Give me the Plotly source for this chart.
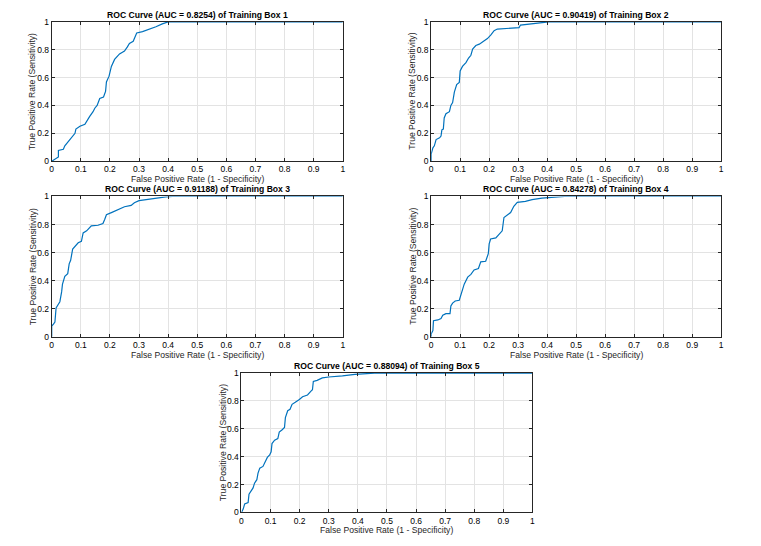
import plotly.graph_objects as go

# ---- data ----
titles = [
    "ROC Curve (AUC = 0.8254) of Training Box 1",
    "ROC Curve (AUC = 0.90419) of Training Box 2",
    "ROC Curve (AUC = 0.91188) of Training Box 3",
    "ROC Curve (AUC = 0.84278) of Training Box 4",
    "ROC Curve (AUC = 0.88094) of Training Box 5",
]

fpr1 = [0, 0.017, 0.023, 0.023, 0.04, 0.045, 0.057, 0.068, 0.08, 0.083, 0.097, 0.114, 0.12, 0.13, 0.142, 0.148,
        0.156, 0.165, 0.178, 0.185, 0.188, 0.197, 0.205, 0.216, 0.233, 0.25, 0.26, 0.267, 0.28, 0.292, 0.312,
        0.335, 0.358, 0.38, 0.40, 1.0]
tpr1 = [0, 0.026, 0.03, 0.077, 0.085, 0.11, 0.14, 0.17, 0.20, 0.23, 0.25, 0.265, 0.29, 0.32, 0.355, 0.38,
        0.40, 0.45, 0.46, 0.50, 0.568, 0.61, 0.68, 0.73, 0.77, 0.79, 0.82, 0.845, 0.86, 0.92, 0.93,
        0.945, 0.965, 0.985, 1.0, 1.0]

fpr2 = [0, 0, 0.006, 0.011, 0.017, 0.029, 0.034, 0.037, 0.042, 0.045, 0.051, 0.063, 0.068, 0.074, 0.08, 0.088,
        0.097, 0.10, 0.108, 0.12, 0.129, 0.137, 0.143, 0.154, 0.166, 0.183, 0.194, 0.206, 0.217, 0.228, 0.257,
        0.303, 0.308, 0.36, 0.405, 1.0]
tpr2 = [0, 0.05, 0.096, 0.11, 0.155, 0.167, 0.18, 0.225, 0.23, 0.31, 0.34, 0.355, 0.40, 0.42, 0.495, 0.55,
        0.565, 0.648, 0.68, 0.707, 0.74, 0.76, 0.805, 0.83, 0.84, 0.866, 0.88, 0.906, 0.937, 0.948, 0.953,
        0.958, 0.977, 0.988, 1.0, 1.0]

fpr3 = [0, 0, 0.006, 0.011, 0.015, 0.023, 0.028, 0.034, 0.037, 0.045, 0.055, 0.06, 0.065, 0.072, 0.08, 0.091,
        0.102, 0.108, 0.12, 0.136, 0.159, 0.176, 0.182, 0.188, 0.205, 0.222, 0.233, 0.25, 0.273, 0.284, 0.30,
        0.324, 0.358, 0.392, 0.415, 1.0]
tpr3 = [0, 0.077, 0.09, 0.105, 0.205, 0.24, 0.25, 0.32, 0.375, 0.43, 0.45, 0.52, 0.545, 0.625, 0.645, 0.67,
        0.68, 0.74, 0.755, 0.79, 0.795, 0.807, 0.836, 0.87, 0.885, 0.90, 0.915, 0.927, 0.936, 0.955, 0.97,
        0.977, 0.99, 0.997, 1.0, 1.0]

fpr4 = [0, 0, 0.006, 0.008, 0.023, 0.034, 0.04, 0.051, 0.065, 0.068, 0.074, 0.083, 0.097, 0.103, 0.108, 0.114,
        0.126, 0.137, 0.148, 0.163, 0.171, 0.188, 0.197, 0.20, 0.205, 0.223, 0.234, 0.245, 0.251, 0.263, 0.274,
        0.285, 0.297, 0.325, 0.348, 0.382, 0.417, 0.46, 1.0]
tpr4 = [0, 0.02, 0.044, 0.114, 0.12, 0.13, 0.154, 0.165, 0.165, 0.22, 0.24, 0.255, 0.26, 0.30, 0.34, 0.375,
        0.425, 0.445, 0.476, 0.487, 0.534, 0.538, 0.592, 0.662, 0.697, 0.705, 0.73, 0.755, 0.85, 0.87, 0.885,
        0.93, 0.958, 0.965, 0.977, 0.988, 0.995, 1.0, 1.0]

fpr5 = [0, 0.006, 0.011, 0.023, 0.026, 0.034, 0.04, 0.045, 0.053, 0.057, 0.063, 0.074, 0.083, 0.089, 0.097, 0.102,
        0.105, 0.114, 0.125, 0.13, 0.14, 0.148, 0.151, 0.159, 0.167, 0.174, 0.185, 0.193, 0.199, 0.21, 0.227,
        0.239, 0.244, 0.247, 0.26, 0.278, 0.30, 0.347, 0.39, 0.457, 1.0]
tpr5 = [0, 0.024, 0.06, 0.07, 0.13, 0.153, 0.176, 0.21, 0.235, 0.282, 0.318, 0.33, 0.365, 0.395, 0.412, 0.435,
        0.494, 0.518, 0.53, 0.576, 0.593, 0.61, 0.68, 0.73, 0.74, 0.776, 0.79, 0.80, 0.81, 0.83, 0.843,
        0.87, 0.88, 0.94, 0.948, 0.965, 0.972, 0.98, 0.99, 1.0, 1.0]

tick_vals = [0, 0.1, 0.2, 0.3, 0.4, 0.5, 0.6, 0.7, 0.8, 0.9, 1]
x_tick_text = ["0", "0.1", "0.2", "0.3", "0.4", "0.5", "0.6", "0.7", "0.8", "0.9", "1"]
y_tick_vals = [0, 0.2, 0.4, 0.6, 0.8, 1]
y_tick_text = ["0", "0.2", "0.4", "0.6", "0.8", "1"]

xlabel = "False Positive Rate (1 - Specificity)"
ylabel = "True Positive Rate (Sensitivity)"

series = [(fpr1, tpr1), (fpr2, tpr2), (fpr3, tpr3), (fpr4, tpr4), (fpr5, tpr5)]

# ---- layout geometry (pixels in the 761x546 window) ----
OFF = 8  # default page body margin
W, H = 761 - 2 * OFF, 546 - 2 * OFF
boxes = [  # left, right, top, bottom in window px
    (50, 343, 17, 159),
    (432, 724, 17, 159),
    (50, 343, 195, 338),
    (432, 724, 195, 338),
    (241, 534, 375, 517),
]

FONT = "Liberation Sans, Arial, Helvetica, sans-serif"
LINE_COLOR = "#0072BD"
AX_COLOR = "#262626"
GRID_COLOR = "#e3e3e3"

fig = go.Figure()
layout = dict(
    width=W, height=H,
    margin=dict(l=0, r=0, t=0, b=0),
    paper_bgcolor="white", plot_bgcolor="white",
    showlegend=False,
    font=dict(family=FONT, size=8, color=AX_COLOR),
)
annotations = []

for i, ((xs, ys), (l, r, t, b), title) in enumerate(zip(series, boxes, titles)):
    n = "" if i == 0 else str(i + 1)
    xa, ya = "x" + n, "y" + n
    fig.add_trace(go.Scatter(x=xs, y=ys, mode="lines", xaxis=xa, yaxis=ya,
                             line=dict(color=LINE_COLOR, width=1.2)))
    dx = [(l - OFF) / W, (r - OFF) / W]
    dy = [1 - (b - OFF) / H, 1 - (t - OFF) / H]
    common = dict(range=[0, 1], showline=True, mirror="ticks", linecolor=AX_COLOR, linewidth=1,
                  ticks="inside", ticklen=3, tickcolor=AX_COLOR, showgrid=True, gridcolor=GRID_COLOR,
                  gridwidth=1, zeroline=False, tickfont=dict(family=FONT, size=8.5, color="#000"),
                  fixedrange=True)
    layout["xaxis" + n] = dict(common, domain=dx, anchor=ya, tickvals=tick_vals, ticktext=x_tick_text)
    layout["yaxis" + n] = dict(common, domain=dy, anchor=xa, tickvals=y_tick_vals, ticktext=y_tick_text)
    cx = (dx[0] + dx[1]) / 2
    cy = (dy[0] + dy[1]) / 2
    annotations.append(dict(text="<b>" + title + "</b>", xref="paper", yref="paper", x=cx, y=dy[1],
                            xanchor="center", yanchor="bottom", yshift=0, showarrow=False,
                            font=dict(family=FONT, size=8.6, color="#000")))
    annotations.append(dict(text=xlabel, xref="paper", yref="paper", x=cx, y=dy[0],
                            xanchor="center", yanchor="top", yshift=-11, showarrow=False,
                            font=dict(family=FONT, size=8.6, color=AX_COLOR)))
    annotations.append(dict(text=ylabel, xref="paper", yref="paper", x=dx[0], y=cy,
                            xanchor="right", yanchor="middle", xshift=-12, textangle=-90, showarrow=False,
                            font=dict(family=FONT, size=8.6, color=AX_COLOR)))

layout["annotations"] = annotations
fig.update_layout(**layout)
fig.write_html("out.html")
